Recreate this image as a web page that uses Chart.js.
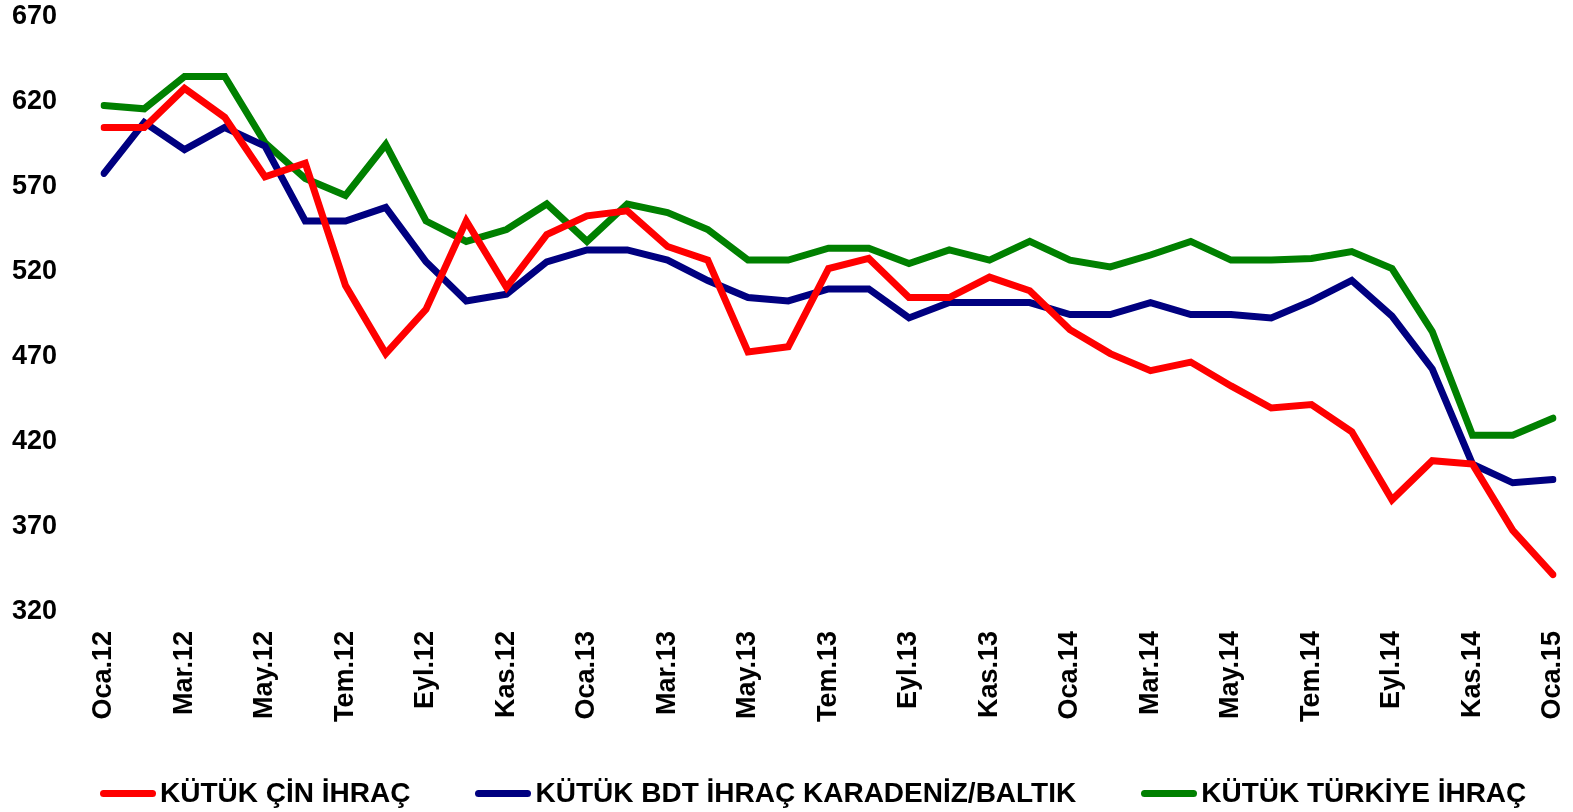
<!DOCTYPE html>
<html>
<head>
<meta charset="utf-8">
<script src="https://cdn.jsdelivr.net/npm/chart.js@4"></script>
<style>
  body { margin: 0; background: #ffffff; }
  #contenidor { position: relative; width: 1573px; height: 812px; }
  #llegenda {
    position: absolute; left: 100px; top: 777px;
    display: flex; align-items: center; gap: 65px;
    font-family: "Liberation Sans", Arial, sans-serif; font-weight: bold; font-size: 28px; color: #000;
    white-space: nowrap;
  }
  .item { display: flex; align-items: center; }
  .linia { width: 56px; height: 7px; border-radius: 4px; margin-right: 4px; }
</style>
</head>
<body>
<div id="contenidor">
  <canvas id="kutuk_chart"></canvas>
  <div id="llegenda"></div>
</div>
<script>
////////////////////////////////Dades grafica/////////////////////////////////////
var mesos = ["Oca.12", "Şub.12", "Mar.12", "Nis.12", "May.12", "Haz.12", "Tem.12", "Ağu.12", "Eyl.12", "Eki.12", "Kas.12", "Ara.12",
  "Oca.13", "Şub.13", "Mar.13", "Nis.13", "May.13", "Haz.13", "Tem.13", "Ağu.13", "Eyl.13", "Eki.13", "Kas.13", "Ara.13",
  "Oca.14", "Şub.14", "Mar.14", "Nis.14", "May.14", "Haz.14", "Tem.14", "Ağu.14", "Eyl.14", "Eki.14", "Kas.14", "Ara.14",
  "Oca.15"]

var cin_ihrac = [605, 605, 628, 611, 576, 584, 512, 472, 498, 550, 511, 542,
  553, 556, 535, 527, 473, 476, 522, 528, 505, 505, 517, 509,
  486, 472, 462, 467, 453, 440, 442, 426, 386, 409, 407, 368,
  342]
var bdt_ihrac = [578, 608, 592, 605, 594, 550, 550, 558, 526, 503, 507, 526,
  533, 533, 527, 515, 505, 503, 510, 510, 493, 502, 502, 502,
  495, 495, 502, 495, 495, 493, 503, 515, 494, 463, 407, 396,
  398]
var turkiye_ihrac = [618, 616, 635, 635, 596, 575, 565, 595, 550, 538, 545, 560,
  538, 560, 555, 545, 527, 527, 534, 534, 525, 533, 527, 538,
  527, 523, 530, 538, 527, 527, 528, 532, 522, 485, 424, 424,
  434]

var noms_series = ["KÜTÜK ÇİN İHRAÇ", "KÜTÜK BDT İHRAÇ KARADENİZ/BALTIK", "KÜTÜK TÜRKİYE İHRAÇ"]
var colors_series = ['#ff0000', '#000080', '#008000']
var eix_min = 320
var eix_max = 670
var eix_pas = 50
////////////////////////////////////////////////////////////////////////////////

var font_base = '"Liberation Sans", Arial, sans-serif'

function serie(nom, valors, color) {
  return {
    label: nom,
    data: valors,
    borderColor: color,
    backgroundColor: color,
    borderWidth: 7,
    borderCapStyle: 'round',
    borderJoinStyle: 'miter',
    pointRadius: 0,
    pointHoverRadius: 0,
    tension: 0,
    fill: false
  }
}

////////////////////Creacio de grafica////////////////////////////////////////
var ctx = document.getElementById('kutuk_chart').getContext('2d');
var kutuk_chart = new Chart(ctx, {
  type: 'line',
  data: {
    labels: mesos,
    datasets: [
      serie(noms_series[0], cin_ihrac, colors_series[0]),
      serie(noms_series[1], bdt_ihrac, colors_series[1]),
      serie(noms_series[2], turkiye_ihrac, colors_series[2])
    ]
  },
  options: {
    responsive: true,
    maintainAspectRatio: false,
    animation: false,
    layout: { padding: { top: 17, right: 20, bottom: 90, left: 12 } },
    plugins: {
      legend: { display: false },
      tooltip: { enabled: false }
    },
    scales: {
      x: {
        offset: false,
        // les marques no es dibuixen pero la llargada separa les etiquetes de l'eix
        grid: { display: false, drawTicks: true, tickLength: 19 },
        border: { display: false },
        ticks: {
          autoSkip: false,
          maxRotation: 90,
          minRotation: 90,
          padding: 0,
          color: '#000',
          font: { family: font_base, weight: 'bold', size: 27, lineHeight: 0.7 },
          callback: function(val, i) { return i % 2 === 0 ? mesos[i] : '' }
        },
        afterFit: function(scale) { scale.height = 110 }
      },
      y: {
        min: eix_min,
        max: eix_max,
        grid: { display: false, drawTicks: false },
        border: { display: false },
        ticks: {
          stepSize: eix_pas,
          padding: 0,
          crossAlign: 'far',
          color: '#000',
          font: { family: font_base, weight: 'bold', size: 27 }
        },
        afterFit: function(scale) { scale.width = 92 }
      }
    }
  }
});
////////////////////////////////////////////////////////////////////////////////

/////////////////////////Llegenda////////////////////////////////////////////////
var llegenda = document.getElementById('llegenda')
noms_series.forEach((nom, i) => {
  let item = document.createElement('div')
  item.className = 'item'
  let linia = document.createElement('div')
  linia.className = 'linia'
  linia.style.background = colors_series[i]
  let text = document.createElement('span')
  text.textContent = nom
  item.appendChild(linia)
  item.appendChild(text)
  llegenda.appendChild(item)
})
////////////////////////////////////////////////////////////////////////////////
</script>
</body>
</html>
